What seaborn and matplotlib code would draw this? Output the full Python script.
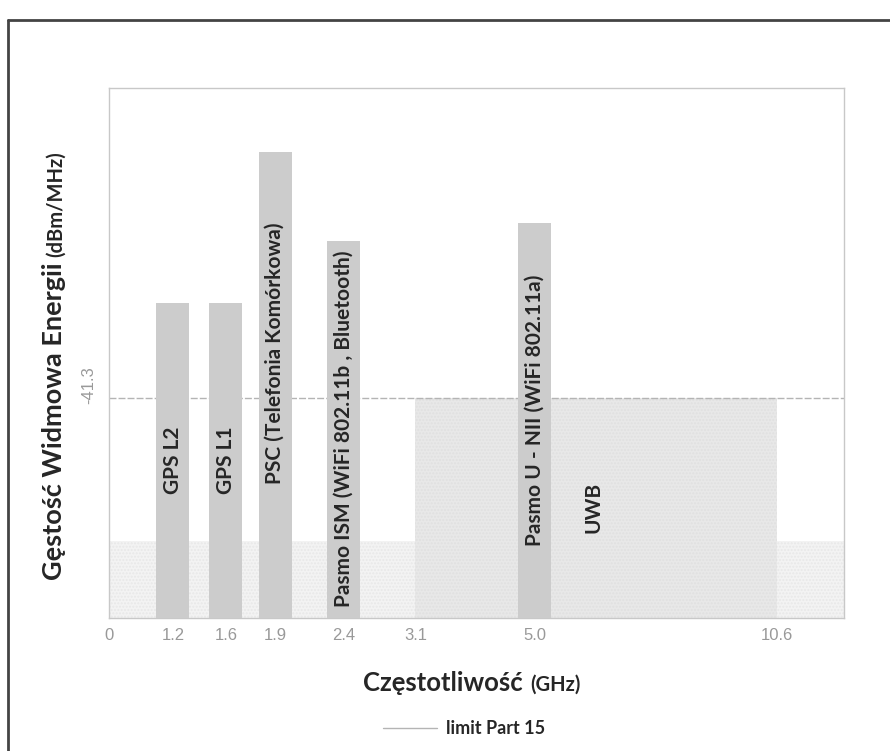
import numpy as np
import pandas as pd
import seaborn as sns
import matplotlib.pyplot as plt
import matplotlib.transforms as mtransforms
from matplotlib.lines import Line2D

# ---- dane ----
band_names = ["GPS L2", "GPS L1", "PSC (Telefonia Komórkowa)",
              "Pasmo ISM (WiFi 802.11b , Bluetooth)",
              "Pasmo U - NII (WiFi 802.11a)"]
band_freq = ["1.2", "1.6", "1.9", "2.4", "5.0"]          # GHz
band_level = [-31.8, -31.8, -16.7, -25.6, -23.8]        # dBm/MHz
freq_ticks = ["0", "1.2", "1.6", "1.9", "2.4", "3.1", "5.0", "10.6"]
limit_level = -41.3      # limit Part 15
floor_level = -55.6      # tlo
uwb_band = ["3.1", "10.6"]
uwb_name = "UWB"

# ---- uklad (os X nie jest w skali, kazdy tick ma swoje miejsce) ----
tick_pos = dict(zip(freq_ticks, [0.0, 8.7, 15.9, 22.6, 31.9, 41.7, 57.9, 90.9]))
X_MIN, X_MAX = 0, 100
Y_MIN, Y_MAX = -63.3, -10.3
BAR_W = 4.5
label_y = [-47.5, -47.5, -36.8, -44.4, -42.5]
uwb_label_xy = (65.9, -52.2)

sns.set_style("white")
plt.rcParams['font.family'] = ['Liberation Sans', 'DejaVu Sans']
TXT = ['Lato', 'DejaVu Sans']

fig = plt.figure(figsize=(8.9, 7.51), dpi=100)
ax = fig.add_axes([109 / 890, 1 - 618 / 751, 735 / 890, 530 / 751])

# tlo i pasmo UWB
ax.fill_between([X_MIN, X_MAX], Y_MIN, floor_level, color='#f3f3f3',
                edgecolor='#e8e8e8', hatch='.....', linewidth=0, zorder=1)
ax.fill_between([tick_pos[uwb_band[0]], tick_pos[uwb_band[1]]], Y_MIN, limit_level,
                color='#e8e8e8', edgecolor='#e0e0e0', hatch='.....', linewidth=0, zorder=1.5)

# limit Part 15
lim_line = ax.axhline(limit_level, color='#b4b4b4', lw=1, ls=(0, (5, 1.5)), zorder=2)

# pasma
df = pd.DataFrame({
    "pos": [tick_pos[f] for f in band_freq],
    "h": np.array(band_level) - Y_MIN,
})
pos_sorted = np.sort(df["pos"].values)
sns.barplot(data=df, x="pos", y="h", native_scale=True, errorbar=None,
            color='#cccccc', saturation=1, width=BAR_W / np.diff(pos_sorted).min(),
            bottom=Y_MIN, linewidth=0, zorder=3, ax=ax)

for name, f, ly in zip(band_names, band_freq, label_y):
    ax.text(tick_pos[f], ly, name, rotation=90, ha='center', va='center',
            fontsize=15, fontweight='bold', family=TXT, zorder=4)
ax.text(*uwb_label_xy, uwb_name, rotation=90, ha='center', va='center',
        fontsize=15, fontweight='bold', family=TXT, zorder=4)

ax.set_xlim(X_MIN, X_MAX)
ax.set_ylim(Y_MIN, Y_MAX)
ax.set_xticks([tick_pos[t] for t in freq_ticks])
ax.set_xticklabels(freq_ticks)
ax.set_yticks([limit_level])
ax.set_yticklabels([f"{limit_level}"], rotation=90, va='center')
ax.set_xlabel("")
ax.set_ylabel("")
ax.tick_params(length=0, labelcolor='#999999', labelsize=12)
ax.tick_params(axis='x', pad=7)
ax.tick_params(axis='y', pad=9)
for lab in ax.get_yticklabels():
    lab.set_transform(lab.get_transform() +
                      mtransforms.ScaledTranslation(0, 0.13, fig.dpi_scale_trans))

for sp in ax.spines.values():
    sp.set_visible(True)
    sp.set_color('#c8c8c8')
    sp.set_linewidth(1)

# opisy osi (dwa rozmiary czcionki)
fig.text(523 / 890, 1 - 691 / 751, "Częstotliwość", ha='right', va='baseline',
         fontsize=18.5, fontweight='bold', family=TXT)
fig.text(530 / 890, 1 - 691 / 751, "(GHz)", ha='left', va='baseline',
         fontsize=14.5, fontweight='bold', family=TXT)
fig.text(66 / 890, 1 - 262 / 751, "Gęstość Widmowa Energii", rotation=90,
         ha='right', va='top', fontsize=19.5, fontweight='bold', family=TXT)
fig.text(66 / 890, 1 - 257 / 751, "(dBm/MHz)", rotation=90,
         ha='right', va='bottom', fontsize=14.5, fontweight='bold', family=TXT)

# legenda
leg_handle = Line2D([], [], color='#b4b4b4', lw=1)
fig.legend([leg_handle], ["limit Part 15"], loc='center',
           bbox_to_anchor=(464 / 890, 1 - 729 / 751), frameon=False,
           handlelength=3.0, handletextpad=0.5,
           prop={'family': TXT, 'weight': 'bold', 'size': 13})

# ramka (lewa i gorna krawedz)
fig.add_artist(Line2D([8 / 890, 8 / 890], [0, 1 - 20 / 751], color='#444444', lw=2,
                      transform=fig.transFigure))
fig.add_artist(Line2D([8 / 890, 1], [1 - 20 / 751, 1 - 20 / 751], color='#444444', lw=2,
                      transform=fig.transFigure))

fig.savefig("out.png", dpi=100)
